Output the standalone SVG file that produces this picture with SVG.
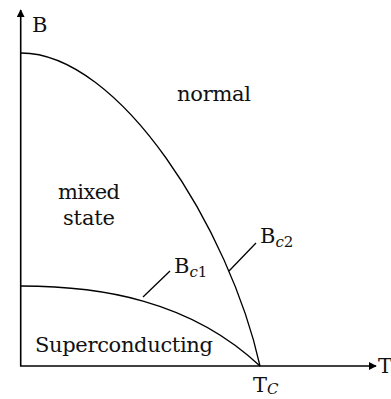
<svg xmlns="http://www.w3.org/2000/svg" width="391" height="399" viewBox="0 0 391 399">
<style>
text{font-family:'DejaVu Serif',serif;font-size:21px;fill:#111}
.sub{font-size:15px}
.it{font-style:italic}
.axis{stroke:#000;stroke-width:1.6;fill:none}
.curve{stroke:#000;stroke-width:1.3;fill:none}
.lead{stroke:#000;stroke-width:1.3;fill:none}
</style>
<defs>
<marker id="arr" viewBox="0 0 10 10" refX="9" refY="5" markerWidth="8" markerHeight="8" markerUnits="userSpaceOnUse" orient="auto">
<path d="M0,0 L10,5 L0,10 Z" fill="#000"/>
</marker>
</defs>
<g id="axes">
<path class="axis" d="M20.7,366 L20.7,10" marker-end="url(#arr)"/>
<path class="axis" d="M20,366 L376,366" marker-end="url(#arr)"/>
<text x="32" y="32">B</text>
<text x="378" y="373">T</text>
<text x="253" y="392">T<tspan class="sub it" dy="2">C</tspan></text>
</g>
<g id="connectors">
<path id="Bc2-curve" class="curve" d="M21,53 C120,53 230,230 260,366"/>
<path id="Bc1-curve" class="curve" d="M21,286 C100,286 190,300 260,366"/>
<path class="lead" d="M229,271 L256,243"/>
<path class="lead" d="M143,297 L170,271"/>
</g>
<g id="normal"><text x="177" y="101" textLength="74">normal</text></g>
<g id="mixed"><text x="58" y="199" textLength="62">mixed</text><text x="63" y="225" textLength="52">state</text></g>
<g id="superconducting"><text x="35" y="352" textLength="178">Superconducting</text></g>
<g id="label-Bc1"><text x="174" y="273">B<tspan class="sub it" dy="4">c</tspan><tspan class="sub">1</tspan></text></g>
<g id="label-Bc2"><text x="260" y="243">B<tspan class="sub it" dy="4">c</tspan><tspan class="sub">2</tspan></text></g>
</svg>
